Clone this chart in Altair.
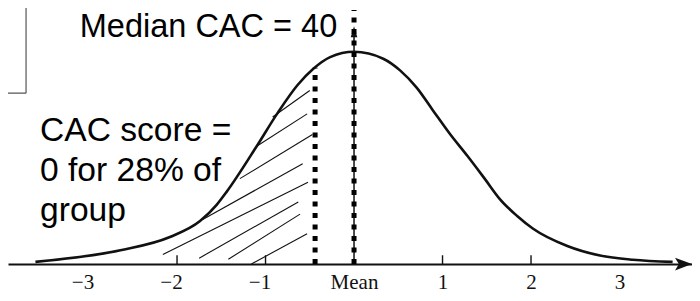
import altair as alt
import pandas as pd

# ---------------- values ----------------
# bell curve (z position, density)
curve_z = [-3.60, -2.64, -2.08, -1.74, -1.55, -1.44, -1.10, -0.87, -0.64, -0.46, -0.27, 0.0,
           0.33, 0.52, 0.71, 0.89, 1.08, 1.28, 1.48, 1.65, 1.84, 2.02, 2.41, 2.78, 3.15, 3.60]
curve_d = [0.004, 0.026, 0.051, 0.081, 0.112, 0.136, 0.222, 0.283, 0.337, 0.368, 0.390, 0.400,
           0.387, 0.365, 0.332, 0.290, 0.246, 0.204, 0.160, 0.122, 0.091, 0.067, 0.034, 0.016, 0.008, 0.004]

# hatch strokes of the shaded tail (start z, start density, end z, end density)
hatch_z0 = [-0.92, -1.10, -1.29, -1.71, -2.16, -1.75, -1.42, -1.16]
hatch_d0 = [0.277, 0.222, 0.161, 0.084, 0.018, 0.011, 0.009, 0.000]
hatch_z1 = [-0.50, -0.53, -0.47, -0.58, -0.52, -0.63, -0.61, -0.53]
hatch_d1 = [0.327, 0.283, 0.244, 0.189, 0.154, 0.117, 0.094, 0.057]

tick_values = [-3, -2, -1, 0, 1, 2, 3]
tick_marks = [-2, -1, 1, 2]

cutoff_z = -0.44       # 28th percentile line
cutoff_top = 0.370
mean_z = 0.0
mean_top = 0.479
mean_arrow_top = 0.433

median_label = "Median CAC = 40"
zero_label = ["CAC score =", "0 for 28% of", "group"]

# ---------------- scales / styles ----------------
X_DOMAIN = [-3.910, 3.819]
Y_DOMAIN = [0.0, 0.4826]
xs = alt.Scale(domain=X_DOMAIN, nice=False, zero=False)
ys = alt.Scale(domain=Y_DOMAIN, nice=False, zero=False)
INK = "#111111"

x_axis = alt.Axis(
    values=tick_values,
    labelExpr="datum.value == 0 ? 'Mean' : (datum.value < 0 ? '\u2212' + abs(datum.value) : '' + datum.value)",
    ticks=False, tickSize=0, grid=False,
    domain=True, domainColor=INK, domainWidth=2,
    title=None,
    labelFont="Liberation Serif", labelFontSize=21, labelColor=INK,
    labelBaseline="alphabetic", labelPadding=24,
    labelOffset={"condition": {"test": "datum.value < 0", "value": -6}, "value": 0},
    labelFlush=False, labelOverlap=False,
)


def X(f):
    return alt.X(f, type="quantitative", scale=xs, axis=x_axis)


def Y(f):
    return alt.Y(f, type="quantitative", scale=ys, axis=None)


def X2(f):
    return alt.X2(f)


def Y2(f):
    return alt.Y2(f)


curve_df = pd.DataFrame({"z": curve_z, "d": curve_d})
hatch_df = pd.DataFrame({"z0": hatch_z0, "d0": hatch_d0, "z1": hatch_z1, "d1": hatch_d1})
tick_df = pd.DataFrame({"z": tick_marks, "d0": [0.0] * len(tick_marks), "d1": [0.0165] * len(tick_marks)})

# corner box (only its right and bottom edges are visible)
box_v = alt.Chart(pd.DataFrame({"z": [-3.706], "a": [0.322], "b": [0.60]})).mark_rule(
    color="#555555", strokeWidth=1.2).encode(x=X("z"), y=Y("a"), y2=Y2("b"))
box_h = alt.Chart(pd.DataFrame({"a": [-4.2], "b": [-3.706], "d": [0.322]})).mark_rule(
    color="#555555", strokeWidth=1.2).encode(x=X("a"), x2=X2("b"), y=Y("d"))

hatch = alt.Chart(hatch_df).mark_rule(color=INK, strokeWidth=1.1).encode(
    x=X("z0"), y=Y("d0"), x2=X2("z1"), y2=Y2("d1"))

curve = alt.Chart(curve_df).mark_line(color=INK, strokeWidth=2.6, interpolate="monotone").encode(
    x=X("z"), y=Y("d"))

ticks = alt.Chart(tick_df).mark_rule(color=INK, strokeWidth=1.4).encode(
    x=X("z"), y=Y("d0"), y2=Y2("d1"))

cut_line = alt.Chart(pd.DataFrame({"z": [cutoff_z], "a": [0.0], "b": [cutoff_top]})).mark_rule(
    color="#000000", strokeWidth=5, strokeDash=[5, 6.5], strokeCap="butt").encode(
    x=X("z"), y=Y("a"), y2=Y2("b"))

mean_arrow = alt.Chart(pd.DataFrame({"z": [mean_z], "a": [0.0], "b": [mean_arrow_top]})).mark_rule(
    color=INK, strokeWidth=1.5).encode(x=X("z"), y=Y("a"), y2=Y2("b"))
mean_head = alt.Chart(pd.DataFrame({"z": [mean_z], "d": [0.4377]})).mark_point(
    shape="M0,-1L0.6,1L-0.6,1Z", size=121, filled=True, color=INK, opacity=1).encode(
    x=X("z"), y=Y("d"))
mean_line = alt.Chart(pd.DataFrame({"z": [mean_z], "a": [0.0], "b": [mean_top]})).mark_rule(
    color="#000000", strokeWidth=5, strokeDash=[5, 6.5], strokeCap="butt").encode(
    x=X("z"), y=Y("a"), y2=Y2("b"))

axis_head = alt.Chart(pd.DataFrame({"z": [3.723], "d": [0.0]})).mark_point(
    shape="M1,0L-1,-0.75L-0.55,0L-1,0.75Z", size=289, filled=True, color=INK, opacity=1).encode(
    x=X("z"), y=Y("d"))

median_text = alt.Chart(pd.DataFrame({"z": [-0.19], "d": [0.4270]})).mark_text(
    text=median_label, align="right", baseline="alphabetic",
    font="Liberation Sans", fontSize=32.5, color="#000000").encode(x=X("z"), y=Y("d"))

zero_text = alt.Chart(pd.DataFrame({"z": [-3.548], "d": [0.231]})).mark_text(
    text=zero_label, align="left", baseline="alphabetic", lineHeight=40,
    font="Liberation Sans", fontSize=33.6, color="#000000").encode(x=X("z"), y=Y("d"))

chart = alt.layer(
    curve, box_v, box_h, hatch, ticks, cut_line, mean_arrow, mean_head, mean_line,
    axis_head, median_text, zero_text,
).properties(
    width=684, height=256,
    autosize=alt.AutoSizeParams(type="none"),
    padding={"left": 0, "right": 0, "top": 0, "bottom": 29},
    background="white",
).configure_view(stroke=None)

chart.save("out.html", embed_options={"renderer": "svg", "actions": False})
